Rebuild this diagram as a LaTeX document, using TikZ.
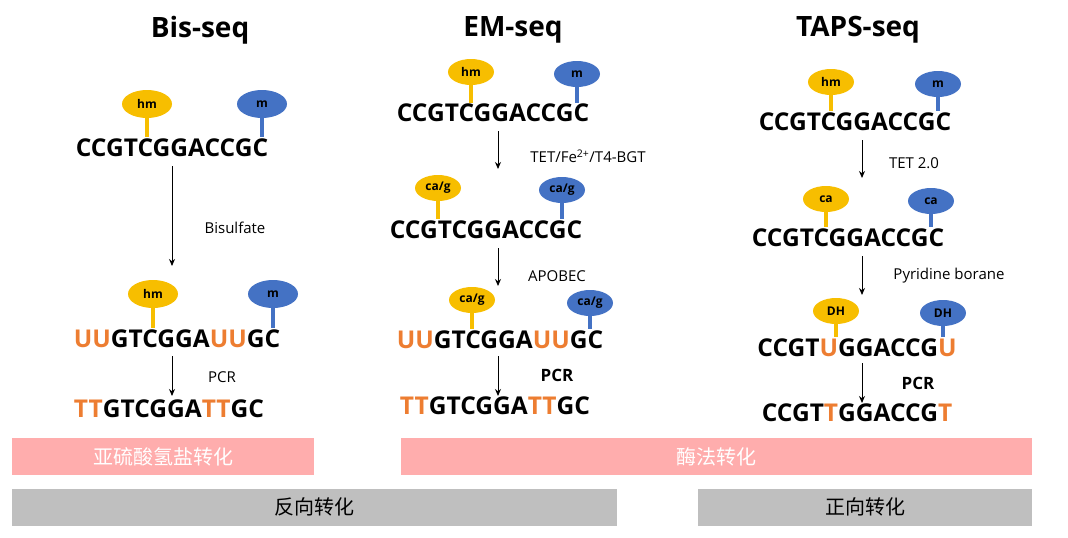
\documentclass[tikz,border=0pt]{standalone}
\usepackage{fontspec}
\setmainfont{Open Sans}
\newfontfamily\cjk{Noto Sans CJK SC}
\usetikzlibrary{shapes.geometric,arrows.meta}
\definecolor{yel}{HTML}{F7BE00}
\definecolor{blu}{HTML}{4472C4}
\definecolor{org}{HTML}{ED7D31}
\definecolor{pnk}{HTML}{FFADAD}
\definecolor{gry}{HTML}{BFBFBF}
\newcommand{\og}[1]{{\color{org}#1}}
\begin{document}
\begin{tikzpicture}[x=1pt,y=-1pt,
 title/.style={font=\fontsize{28}{30}\selectfont\bfseries},
 seq/.style={font=\fontsize{24.5}{26}\selectfont\bfseries,inner sep=0pt},
 lab/.style={font=\fontsize{15}{16}\selectfont},
 mk/.style={ellipse,minimum width=50pt,minimum height=28pt,inner sep=0pt,font=\fontsize{12}{12}\selectfont\bfseries},
 hmk/.style={mk,fill=yel},
 mmk/.style={mk,fill=blu},
 stem/.style={line width=4pt},
 arr/.style={-{Stealth[length=7pt,width=6pt]},line width=1pt},
 bar/.style={minimum height=37pt,inner sep=0pt,font=\cjk\fontsize{20}{22}\selectfont}]
\useasboundingbox (0,0) rectangle (1068,538);
% titles
\node[title] (t1) at (200,30) {Bis-seq};
\node[title] (t2) at (513,30) {EM-seq};
\node[title] (t3) at (858,30) {TAPS-seq};
% Bis
\node[hmk] (b1h) at (147,104) {hm};
\node[mmk] (b1m) at (262,104) {m};
\node[seq] (b1) at (172,148) {CCGTCGGACCGC};
\draw[stem,yel] (b1h.south) -- (147,137);
\draw[stem,blu] (b1m.south) -- (262,137);
\coordinate (b1a) at (172,166); \coordinate (b2a) at (172,266);
\draw[arr] (b1a) -- (b2a);
\node[lab] (bl1) at (235,228) {Bisulfate};
\node[hmk] (b2h) at (153,294) {hm};
\node[mmk] (b2m) at (273,294) {m};
\node[seq] (b2) at (177,339) {\og{UU}GTCGGA\og{UU}GC};
\draw[stem,yel] (b2h.south) -- (153,328);
\draw[stem,blu] (b2m.south) -- (273,328);
\coordinate (b3a) at (172,356); \coordinate (b4a) at (172,396);
\draw[arr] (b3a) -- (b4a);
\node[lab] (bl2) at (222,377) {PCR};
\node[seq] (b3) at (169,409) {\og{TT}GTCGGA\og{TT}GC};
% EM
\node[hmk,minimum width=46pt,minimum height=26pt] (e1h) at (471,72) {hm};
\node[mmk,minimum width=46pt,minimum height=26pt] (e1m) at (577,74) {m};
\node[seq] (e1) at (493,113) {CCGTCGGACCGC};
\draw[stem,yel] (e1h.south) -- (471,103);
\draw[stem,blu] (e1m.south) -- (577,103);
\coordinate (e1a) at (498,131); \coordinate (e2a) at (498,169);
\draw[arr] (e1a) -- (e2a);
\node[lab] (el1) at (588,156) {TET/Fe\textsuperscript{2+}/T4-BGT};
\node[hmk,minimum width=46pt,minimum height=26pt] (e2h) at (438,188) {ca/g};
\node[mmk,minimum width=46pt,minimum height=26pt] (e2m) at (562,190) {ca/g};
\node[seq] (e2) at (486,230) {CCGTCGGACCGC};
\draw[stem,yel] (e2h.south) -- (438,219);
\draw[stem,blu] (e2m.south) -- (562,219);
\coordinate (e3a) at (498,248); \coordinate (e4a) at (498,286);
\draw[arr] (e3a) -- (e4a);
\node[lab] (el2) at (557,276) {APOBEC};
\node[hmk,minimum width=46pt,minimum height=26pt] (e3h) at (472,300) {ca/g};
\node[mmk,minimum width=46pt,minimum height=26pt] (e3m) at (590,303) {ca/g};
\node[seq] (e3) at (500,340) {\og{UU}GTCGGA\og{UU}GC};
\draw[stem,yel] (e3h.south) -- (472,329);
\draw[stem,blu] (e3m.south) -- (590,329);
\coordinate (e5a) at (498,356); \coordinate (e6a) at (498,396);
\draw[arr] (e5a) -- (e6a);
\node[lab,font=\fontsize{17}{18}\selectfont\bfseries] (el3) at (557,375) {PCR};
\node[seq] (e4) at (495,406) {\og{TT}GTCGGA\og{TT}GC};
% TAPS
\node[hmk,minimum width=46pt,minimum height=26pt] (p1h) at (831,82) {hm};
\node[mmk,minimum width=46pt,minimum height=26pt] (p1m) at (938,84) {m};
\node[seq] (p1) at (855,122) {CCGTCGGACCGC};
\draw[stem,yel] (p1h.south) -- (831,111);
\draw[stem,blu] (p1m.south) -- (938,111);
\coordinate (p1a) at (862,140); \coordinate (p2a) at (862,178);
\draw[arr] (p1a) -- (p2a);
\node[lab] (pl1) at (914,163) {TET 2.0};
\node[hmk,minimum width=46pt,minimum height=26pt] (p2h) at (826,199) {ca};
\node[mmk,minimum width=46pt,minimum height=26pt] (p2m) at (931,201) {ca};
\node[seq] (p2) at (848,238) {CCGTCGGACCGC};
\draw[stem,yel] (p2h.south) -- (826,227);
\draw[stem,blu] (p2m.south) -- (931,227);
\coordinate (p3a) at (862,256); \coordinate (p4a) at (862,295);
\draw[arr] (p3a) -- (p4a);
\node[lab] (pl2) at (949,276) {Pyridine borane};
\node[hmk,minimum width=46pt,minimum height=26pt] (p3h) at (836,311) {DH};
\node[mmk,minimum width=46pt,minimum height=26pt] (p3m) at (943,313) {DH};
\node[seq] (p3) at (857,348) {CCGT\og{U}GGACCG\og{U}};
\draw[stem,yel] (p3h.south) -- (836,337);
\draw[stem,blu] (p3m.south) -- (943,337);
\coordinate (p5a) at (862,363); \coordinate (p6a) at (862,403);
\draw[arr] (p5a) -- (p6a);
\node[lab,font=\fontsize{17}{18}\selectfont\bfseries] (pl3) at (918,383) {PCR};
\node[seq] (p4) at (857,413) {CCGT\og{T}GGACCG\og{T}};
% bars
\node[bar,fill=pnk,text=white,minimum width=302pt] (r1) at (163,456.5) {亚硫酸氢盐转化};
\node[bar,fill=pnk,text=white,minimum width=631pt] (r2) at (716.5,456.5) {酶法转化};
\node[bar,fill=gry,minimum width=605pt] (g1) at (314.5,507) {反向转化};
\node[bar,fill=gry,minimum width=334pt] (g2) at (865,507) {正向转化};
\end{tikzpicture}
\end{document}
